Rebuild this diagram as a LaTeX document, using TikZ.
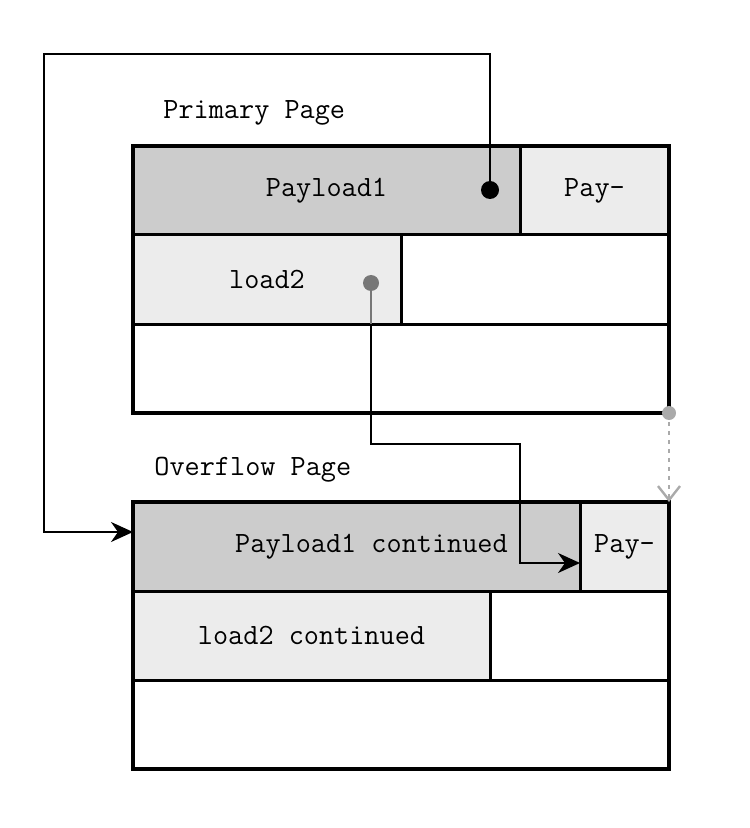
\documentclass[tikz,border=0pt]{standalone}
\usepackage{fontspec}
\usetikzlibrary{arrows.meta, positioning}
\definecolor{darkcell}{HTML}{CCCCCC}
\definecolor{lightcell}{HTML}{ECECEC}
\definecolor{dotgray}{HTML}{777777}
\definecolor{linkgray}{HTML}{AAAAAA}

\begin{document}
\begin{tikzpicture}[x=0.5pt, y=-0.5pt,
        rowbox/.style={rectangle, draw=black, line width=1.5pt, inner sep=0pt, outer sep=0pt,
                       minimum width=268pt, minimum height=44.5pt, anchor=north west},
        cell/.style={rectangle, draw=black, line width=1.5pt, inner sep=0pt, outer sep=0pt,
                     minimum height=44.5pt, anchor=north west,
                     font=\fontsize{14.7}{17}\selectfont\ttfamily},
        dark/.style={cell, fill=darkcell},
        light/.style={cell, fill=lightcell},
        frame/.style={draw=black, line width=2pt},
        title/.style={anchor=west, inner sep=0pt, font=\fontsize{14.7}{17}\selectfont\ttfamily},
        pin/.style={circle, fill=black, inner sep=0pt, minimum size=9pt},
        link/.style={line width=1pt, -{Stealth[length=11pt, width=10pt, inset=3.5pt]}},
        node distance=0pt,
      ]
        \useasboundingbox (0,0) rectangle (749,828);

        % primary page
        \node[title] (ptitle) at (163,113) {Primary Page};
        \node[rowbox] (prow1) at (133,146) {};
        \node[rowbox, below=of prow1] (prow2) {};
        \node[rowbox, below=of prow2] (prow3) {};
        \node[dark, minimum width=193.5pt] (pay1) at (prow1.north west) {Payload1};
        \node[light, minimum width=74.5pt, right=of pay1] (pay2) {Pay-};
        \node[light, minimum width=134pt] (load2) at (prow2.north west) {load2};
        \draw[frame] (prow1.north west) rectangle (prow3.south east);

        % overflow page
        \node[title] (otitle) at (154,470) {Overflow Page};
        \node[rowbox] (orow1) at (133,502) {};
        \node[rowbox, below=of orow1] (orow2) {};
        \node[rowbox, below=of orow2] (orow3) {};
        \node[dark, minimum width=223.5pt] (opay1) at (orow1.north west) {\hspace*{15pt}Payload1 continued};
        \node[light, minimum width=44.5pt, right=of opay1] (opay2) {Pay-};
        \node[light, minimum width=178.5pt] (oload2) at (orow2.north west) {load2 continued};
        \draw[frame] (orow1.north west) rectangle (orow3.south east);

        % pointers
        \coordinate (in1) at (133,532);
        \coordinate (in2) at (580,563);
        \coordinate (pin1pos) at (490,190);
        \coordinate (pin2pos) at (371,283);
        \draw[link] (pin1pos) |- (44,54) |- (in1);
        \draw[dotgray, line width=1pt] (pin2pos) -- (pin2pos |- load2.south);
        \draw[link] (pin2pos |- load2.south) |- (520,444) |- (in2);
        \draw[linkgray, line width=1pt, dash pattern=on 2pt off 2.5pt,
              -{Straight Barb[length=7pt, width=11pt, line width=1.2pt]}] (prow3.south east) -- (orow1.north east);
        \node[pin] (pin1) at (pin1pos) {};
        \node[pin, fill=dotgray, minimum size=8pt] (pin2) at (pin2pos) {};
        \node[pin, fill=linkgray, minimum size=7pt] (pin3) at (prow3.south east) {};
      \end{tikzpicture}
\end{document}
